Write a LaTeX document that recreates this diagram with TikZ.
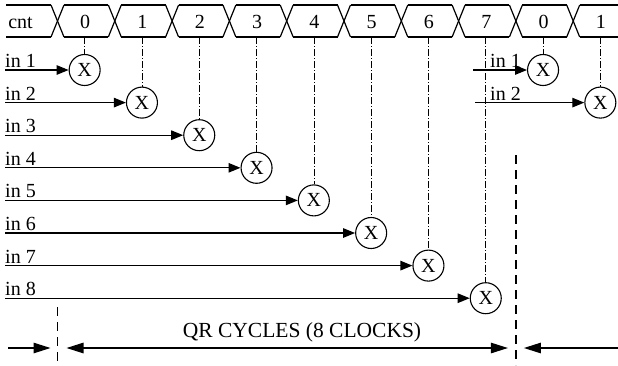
\documentclass[tikz,border=0pt]{standalone}
\usepackage{fontspec}
\setmainfont{Liberation Serif}
\usetikzlibrary{arrows.meta,calc}
\tikzset{
  wire/.style={line width=1.2pt},
  tick/.style={line width=0.6pt, dash pattern=on 7pt off 2pt on 1pt off 2pt},
  bound/.style={line width=1.5pt, dash pattern=on 9pt off 6pt},
  arr/.style={wire, -{Triangle[length=12pt,width=9.5pt]}},
  span/.style={wire, -{Triangle[length=17pt,width=10.5pt]}},
  mux/.style={circle, draw, line width=1.1pt, minimum size=31pt, inner sep=0pt, font=\fontsize{20}{24}\selectfont},
  lbl/.style={inner sep=0pt, anchor=base west, font=\fontsize{20}{24}\selectfont},
  val/.style={inner sep=0pt, anchor=base, font=\fontsize{20}{24}\selectfont},
}
\begin{document}
\begin{tikzpicture}[x=1pt, y=-1pt]
\useasboundingbox (0,0) rectangle (618,365);
\def\P{57.3}
\def\C{57.5}
% counter bus: top and bottom rails with crossings
\draw[wire] (6,5) -- (\C-6.5,5);
\draw[wire] (6,37) -- (\C-6.5,37);
\foreach \k in {0,...,9}{
  \pgfmathsetmacro\c{\C+\P*\k}
  \draw[wire] (\c-6.5,5) -- (\c+6.5,37);
  \draw[wire] (\c-6.5,37) -- (\c+6.5,5);
}
\foreach \k in {0,...,8}{
  \pgfmathsetmacro\a{\C+\P*\k+6.5}
  \pgfmathsetmacro\b{\C+\P*(\k+1)-6.5}
  \draw[wire] (\a,5) -- (\b,5);
  \draw[wire] (\a,37) -- (\b,37);
}
\draw[wire] (\C+\P*9+6.5,5) -- (618,5);
\draw[wire] (\C+\P*9+6.5,37) -- (618,37);
\node[val] (cnt) at (20.5,28) {cnt};
% cell values and their bottom points
\foreach \v [count=\i from 0] in {0,1,2,3,4,5,6,7,0,1}{
  \pgfmathsetmacro\m{\C+\P*\i+\P/2}
  \node[val] (v\i) at (\m-1,28) {\v};
  \coordinate (b\i) at (\m-1.5,37);
}
% first frame: inputs 1..8
\foreach \k [evaluate=\k as \j using int(\k-1)] in {1,...,8}{
  \pgfmathsetmacro\m{\C+\P*(\k-1)+\P/2-1.5}
  \pgfmathsetmacro\y{70+32.6*(\k-1)}
  \node[mux] (x\k) at (\m,\y) {X};
  \coordinate (s\k) at (5,\y);
  \node[lbl] (l\k) at (5,\y-2.5) {in \k};
  \draw[arr] (s\k) -- (x\k);
  \draw[tick] (b\j) -- (x\k);
}
% second frame: inputs 1 and 2
\node[mux] (r1) at (\C+\P*8+\P/2-1.5,70) {X};
\node[mux] (r2) at (\C+\P*9+\P/2-1.5,102.6) {X};
\coordinate (rs1) at (473,70);
\coordinate (rs2) at (475,102.6);
\node[lbl] (rl1) at (490,67.5) {in 1};
\node[lbl] (rl2) at (490,100) {in 2};
\draw[arr] (rs1) -- (r1);
\draw[arr] (rs2) -- (r2);
\draw[tick] (b8) -- (r1);
\draw[tick] (b9) -- (r2);
% cycle boundaries
\coordinate (d1t) at (\C,307);
\coordinate (d1b) at (\C,365);
\coordinate (d2t) at (\C+\P*8,155);
\coordinate (d2b) at (\C+\P*8,365);
\draw[bound] (d1t) -- (d1b);
\draw[bound] (d2t) -- (d2b);
% cycle span arrows
\coordinate (la) at (8,348);
\coordinate (lb) at (\C-7,348);
\coordinate (ma) at (\C+9,348);
\coordinate (mb) at (\C+\P*8-8,348);
\coordinate (ra) at (618,348);
\coordinate (rb) at (\C+\P*8+8,348);
\draw[span] (la) -- (lb);
\draw[wire, {Triangle[length=17pt,width=10.5pt]}-{Triangle[length=17pt,width=10.5pt]}] (ma) -- (mb);
\draw[span] (ra) -- (rb);
\node[val, font=\fontsize{21.5}{25}\selectfont] (qr) at (302,337) {QR CYCLES (8 CLOCKS)};
\end{tikzpicture}
\end{document}
